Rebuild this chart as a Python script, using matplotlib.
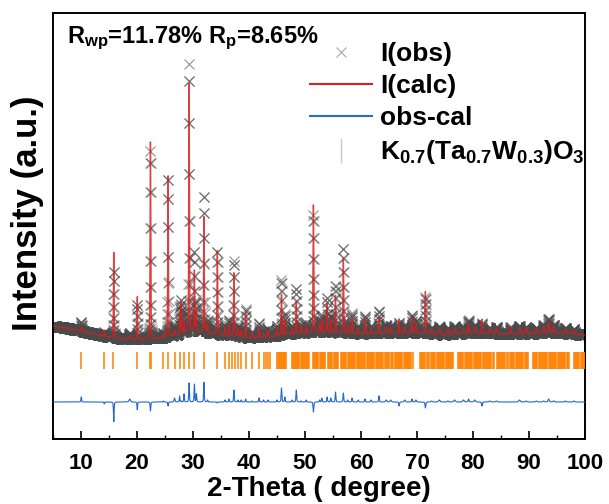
import numpy as np
import matplotlib
matplotlib.use("Agg")
import matplotlib.pyplot as plt
from matplotlib.lines import Line2D

plt.rcParams["font.family"] = ["Liberation Sans", "DejaVu Sans"]
plt.rcParams["font.weight"] = "bold"
plt.rcParams["mathtext.fontset"] = "custom"
plt.rcParams["mathtext.rm"] = "Liberation Sans:bold"
plt.rcParams["mathtext.it"] = "Liberation Sans:bold"
plt.rcParams["mathtext.bf"] = "Liberation Sans:bold"
plt.rcParams["mathtext.default"] = "rm"

# ---- refinement data -------------------------------------------------------
# background (2-theta, intensity)
bkg_tth = [5, 7.5, 10, 12.5, 15, 17.5, 20, 22.5, 25, 27.5, 30, 32.5, 35, 37.5,
           40, 42.5, 45, 47.5, 50, 55, 60, 65, 70, 75, 80, 85, 90, 95, 100]
bkg_int = [113, 111, 108, 105, 102, 100, 99, 100, 101, 104, 107, 106, 104, 103,
           101, 102, 103, 105, 106, 106, 105, 106, 106, 104, 106, 105, 105, 106, 104]

# reflections: position, observed height, calculated height, FWHM
peak_pos = [10.05, 14.15, 15.85, 18.7, 20.05, 22.4, 24.7, 25.55, 26.7, 27.6,
            27.85, 28.4, 29.3, 30.25, 30.6, 31.95, 32.6, 34.35, 35.7, 36.4,
            37.3, 38.0, 38.6, 39.4, 40.5, 41.8, 42.6, 43.4, 45.0, 45.8,
            46.4, 47.7, 48.45, 49.3, 50.2, 51.5, 52.6, 53.0, 53.95, 54.6,
            55.45, 56.85, 57.6, 58.4, 59.5, 60.7, 61.8, 63.2, 64.5, 65.3,
            66.8, 67.8, 69.1, 69.8, 71.5, 72.6, 74.0, 75.5, 76.7, 78.3,
            79.2, 80.3, 81.6, 83.0, 84.2, 86.7, 88.3, 89.5, 91.3, 92.6,
            93.5, 94.4, 96.5, 98.0]
obs_h = [9, 4, 67, 6, 36, 188, 5, 160, 10, 28,
         34, 22, 268, 80, 30, 138, 12, 84, 10, 15,
         75, 10, 8, 28, 6, 14, 6, 8, 10, 55,
         20, 8, 45, 8, 10, 118, 12, 18, 35, 18,
         48, 85, 10, 20, 8, 18, 8, 22, 8, 7,
         10, 8, 18, 12, 36, 6, 8, 7, 8, 7,
         13, 8, 10, 6, 7, 7, 8, 7, 6, 8,
         14, 8, 6, 5]
calc_h = [4, 6, 87, 3, 44, 197, 4, 164, 6, 22,
          33, 14, 249, 62, 22, 118, 10, 85, 8, 12,
          63, 8, 6, 25, 5, 10, 4, 6, 8, 41,
          15, 6, 33, 7, 8, 128, 10, 14, 30, 14,
          38, 76, 8, 16, 6, 15, 6, 16, 6, 5,
          14, 6, 15, 10, 42, 5, 6, 6, 6, 5,
          10, 6, 14, 5, 6, 7, 6, 6, 5, 7,
          11, 7, 5, 4]
peak_fwhm = [0.15, 0.12, 0.13, 0.30, 0.13, 0.14, 0.12, 0.14, 0.20, 0.13,
             0.13, 0.13, 0.14, 0.14, 0.13, 0.14, 0.15, 0.14, 0.15, 0.15,
             0.14, 0.15, 0.15, 0.14, 0.15, 0.13, 0.15, 0.15, 0.15, 0.15,
             0.14, 0.15, 0.15, 0.15, 0.15, 0.15, 0.15, 0.15, 0.15, 0.15,
             0.15, 0.15, 0.15, 0.15, 0.20, 0.15, 0.20, 0.15, 0.25, 0.25,
             0.15, 0.25, 0.15, 0.20, 0.16, 0.30, 0.30, 0.30, 0.30, 0.30,
             0.20, 0.30, 0.15, 0.30, 0.30, 0.20, 0.30, 0.30, 0.30, 0.30,
             0.25, 0.30, 0.30, 0.30]

# Bragg reflection positions of K0.7(Ta0.7W0.3)O3
bragg = [
    9.98, 14.1, 15.8, 20.0, 22.35, 22.5, 24.7, 25.5, 26.7, 27.6, 28.4, 29.3,
    30.2, 31.9, 34.3, 35.7, 36.4, 37.0, 37.5, 38.0, 38.6, 39.5, 40.5, 41.8,
    42.6, 43.0, 43.4, 43.7,
    45.0, 45.2, 45.35, 45.5, 45.7, 45.85, 46.0, 46.2, 46.35, 46.6,
    47.7, 47.9, 48.1, 48.3, 48.4, 48.6, 48.8, 49.0, 49.2, 49.4, 49.6, 49.8,
    50.0, 50.2, 50.4, 50.6, 50.8, 51.4, 51.6, 51.8, 52.0, 52.2, 52.4, 52.6,
    52.8, 53.0, 53.2, 53.4, 53.6, 54.1, 54.3, 54.5, 54.7, 54.9, 55.1, 55.3,
    55.5, 55.7, 55.9, 56.4, 56.6, 56.8, 57.0, 57.2, 57.4, 57.6, 57.8, 58.0,
    58.2, 58.4, 58.6, 58.8, 59.0, 59.2, 59.4, 59.6, 59.8, 60.0, 60.2, 60.4,
    60.6, 60.8, 61.0, 61.2, 61.4, 61.6, 61.8, 62.0, 62.2, 62.4, 62.6, 62.8,
    63.0, 63.2, 63.4, 63.6, 63.8, 64.0, 64.2, 64.4, 64.6, 64.8, 65.0, 65.4,
    65.6, 65.8, 66.0, 66.2, 66.4, 66.6, 66.8, 67.0, 67.2, 67.4, 67.6, 67.8,
    68.0, 68.2, 68.4, 68.6, 68.8, 69.0, 69.2,
    70.5, 70.7, 70.9, 71.1, 71.3, 71.5, 71.7, 71.9, 72.1, 72.5, 72.7, 72.9,
    73.1, 73.3, 73.5, 73.7, 73.9, 74.1, 74.3, 74.5, 74.7, 74.9, 75.1, 75.3,
    75.5, 75.7, 75.9, 76.1, 76.3, 76.5,
    77.3, 77.5, 77.7, 77.9, 78.1, 78.3, 78.5, 78.7, 78.9, 79.1, 79.3, 79.5,
    79.7, 79.9, 80.1, 80.3, 80.5, 80.7, 80.9, 81.1, 81.3, 81.5, 81.7, 81.9,
    82.1, 82.3, 82.5, 82.7, 82.9, 83.1, 83.3, 83.5, 83.7, 84.2, 84.4, 84.6,
    84.8, 85.0, 85.2, 85.4, 85.6, 85.8, 86.0, 86.2, 86.6, 86.8, 87.0, 87.2,
    87.4, 87.6, 87.8, 88.0, 88.2, 88.4, 88.6, 88.8, 89.0, 89.2, 89.4, 89.6,
    89.8,
    90.7, 90.9, 91.1, 91.3, 91.5, 91.7, 91.9, 92.1, 92.3, 92.5, 92.7, 92.9,
    93.1, 93.3, 93.5, 93.7, 93.9, 94.1, 94.3, 94.5, 94.7, 94.9, 95.1, 95.3,
    95.5, 95.7, 95.9, 96.1, 96.3, 96.5, 96.7, 96.9, 97.1,
    98.0, 98.2, 98.4, 98.6, 98.8, 99.0, 99.2, 99.4, 99.6, 99.8, 100.0,
]

x_ticks = [10, 20, 30, 40, 50, 60, 70, 80, 90, 100]
r_text = r"R$_{wp}$=11.78% R$_{p}$=8.65%"
phase_label = r"K$_{0.7}$(Ta$_{0.7}$W$_{0.3}$)O$_{3}$"


# ---- build the profiles on the scan grid -------------------------------------
def profile(tth, heights):
    y = np.interp(tth, bkg_tth, bkg_int).astype(float)
    for p, h, w in zip(peak_pos, heights, peak_fwhm):
        d = (tth - p) / (w / 2)
        gauss = np.exp(-np.log(2) * d ** 2)
        lor = 1.0 / (1.0 + d ** 2)
        y += h * (0.6 * gauss + 0.4 * lor)
    return y


tth = np.arange(5.0, 100.0001, 0.02)
y_obs = profile(tth, obs_h)
y_calc = profile(tth, calc_h)
diff_offset = 37
y_diff = y_obs - y_calc + diff_offset

# ---- figure ---------------------------------------------------------------------
fig = plt.figure(figsize=(6.09, 5.04), dpi=100)
ax = fig.add_axes([53 / 609, 65 / 504, 532 / 609, 426 / 504])

ax.plot(tth, y_obs, linestyle="none", marker="x", markersize=7,
        markeredgewidth=0.8, color="#4a4a4a", alpha=0.6, zorder=2)
ax.plot(tth, y_calc, color="#d81e1e", lw=1.0, alpha=0.85, zorder=3)
ax.plot(tth, y_diff, color="#2266d4", lw=0.8, zorder=3)
ax.vlines(bragg, 70, 87, color="#ff8000", lw=1.1, zorder=3)

ax.set_xlim(5, 100)
ax.set_ylim(0, 426)
ax.set_xticks(x_ticks)
ax.set_xticks(np.array(x_ticks) - 5, minor=True)
ax.set_yticks([])
ax.tick_params(axis="x", which="major", direction="in", length=6, width=1.2,
               labelsize=16, pad=10, top=False)
ax.tick_params(axis="x", which="minor", direction="in", length=3, width=1.0,
               top=False)
for lbl in ax.get_xticklabels():
    lbl.set_fontweight("bold")
for sp in ax.spines.values():
    sp.set_linewidth(1.4)

fig.text(319 / 609, 2 / 504, "2-Theta ( degree)", fontsize=20,
         fontweight="bold", ha="center", va="bottom")
fig.text(28 / 609, 1 - 213 / 504, "Intensity (a.u.)", fontsize=25,
         fontweight="bold", rotation=90, ha="center", va="center")

fig.text(67 / 609, 1 - 43 / 504, r_text, fontsize=17, fontweight="bold",
         va="baseline", ha="left")

handles = [
    Line2D([], [], linestyle="none", marker="x", markersize=7,
           markeredgewidth=0.8, color="#a8a8a8"),
    Line2D([], [], color="#e02020", lw=1.5),
    Line2D([], [], color="#2a6bd0", lw=1.5),
    Line2D([], [], linestyle="none", marker="|", markersize=18,
           markeredgewidth=1.0, color="#c8c8c8"),
]
labels = ["I(obs)", "I(calc)", "obs-cal", phase_label]
fig.legend(handles, labels, loc="upper left",
           bbox_to_anchor=(310 / 609, 1 - 42 / 504), frameon=False,
           handlelength=2.35, handletextpad=0.3,
           labelspacing=0.3, borderpad=0, borderaxespad=0,
           prop={"weight": "bold", "size": 19})

fig.savefig("out.png", dpi=100)
